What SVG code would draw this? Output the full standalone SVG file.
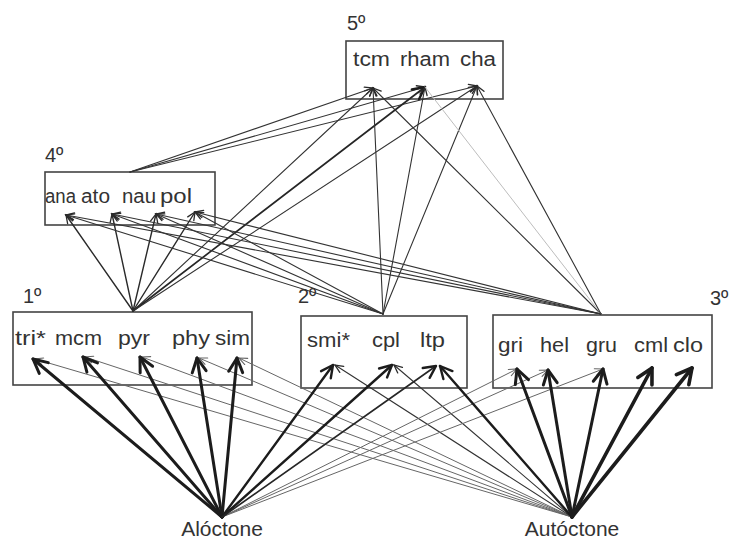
<svg xmlns="http://www.w3.org/2000/svg" width="730" height="542" viewBox="0 0 730 542">
  <defs>
    <style>
      .box { fill: #fff; stroke: #444; stroke-width: 1.6; }
      .lbl { font-family: "Liberation Sans", Arial, sans-serif; font-size: 20px; fill: #333; }
      .src { font-family: "Liberation Sans", Arial, sans-serif; font-size: 21px; fill: #333; }
      .lvl { font-family: "Liberation Sans", Arial, sans-serif; font-size: 20px; fill: #333; }
      .e { fill: none; stroke-linecap: round; }
      .thk { stroke: #1c1c1c; stroke-width: 3; marker-end: url(#hd-l); }
      .thx { stroke: #1c1c1c; stroke-width: 3.6; marker-end: url(#hd-x); }
      .thm { stroke: #1c1c1c; stroke-width: 2.4; marker-end: url(#hd-m); }
      .med { stroke: #262626; stroke-width: 1.7; marker-end: url(#hd-m); }
      .md2 { stroke: #2a2a2a; stroke-width: 1.4; marker-end: url(#hd-s); }
      .thn { stroke: #333; stroke-width: 1.1; marker-end: url(#hd-s); }
      .fnt { stroke: #666; stroke-width: 1; marker-end: url(#hd-f); }
      .lgt { stroke: #bdbdbd; stroke-width: 1; }
    </style>
    <marker id="hd-s" markerUnits="userSpaceOnUse" orient="auto" refX="0" refY="0" markerWidth="20" markerHeight="20" overflow="visible">
      <path d="M-8,-3.6 L0,0 L-8,3.6" fill="none" stroke="#2a2a2a" stroke-width="1.3" stroke-linecap="round"/>
    </marker>
    <marker id="hd-f" markerUnits="userSpaceOnUse" orient="auto" refX="0" refY="0" markerWidth="20" markerHeight="20" overflow="visible">
      <path d="M-8,-3.4 L0,0 L-8,3.4" fill="none" stroke="#666" stroke-width="1.1" stroke-linecap="round"/>
    </marker>
    <marker id="hd-m" markerUnits="userSpaceOnUse" orient="auto" refX="0" refY="0" markerWidth="30" markerHeight="30" overflow="visible">
      <path d="M-12,-6 L0,0 L-12,6" fill="none" stroke="#1c1c1c" stroke-width="2.4" stroke-linecap="round" stroke-linejoin="round"/>
    </marker>
    <marker id="hd-l" markerUnits="userSpaceOnUse" orient="auto" refX="0" refY="0" markerWidth="30" markerHeight="30" overflow="visible">
      <path d="M-14,-7 L0,0 L-14,7" fill="none" stroke="#1c1c1c" stroke-width="3" stroke-linecap="round" stroke-linejoin="round"/>
    </marker>
    <marker id="hd-x" markerUnits="userSpaceOnUse" orient="auto" refX="0" refY="0" markerWidth="30" markerHeight="30" overflow="visible">
      <path d="M-15,-8 L0,0 L-15,8" fill="none" stroke="#1c1c1c" stroke-width="3.6" stroke-linecap="round" stroke-linejoin="round"/>
    </marker>
  </defs>

  <!-- trophic-level boxes -->
  <g id="level5">
    <rect class="box" x="346" y="41" width="157" height="58"/>
    <text class="lvl" x="347" y="30">5º</text>
    <text class="lbl" x="353" y="66" textLength="37" lengthAdjust="spacingAndGlyphs">tcm</text>
    <text class="lbl" x="400" y="66" textLength="50" lengthAdjust="spacingAndGlyphs">rham</text>
    <text class="lbl" x="460" y="66" textLength="36" lengthAdjust="spacingAndGlyphs">cha</text>
  </g>
  <g id="level4">
    <rect class="box" x="45" y="172" width="170" height="53"/>
    <text class="lvl" x="45" y="162">4º</text>
    <text class="lbl" x="45" y="203" textLength="31" lengthAdjust="spacingAndGlyphs">ana</text>
    <text class="lbl" x="81" y="203" textLength="29" lengthAdjust="spacingAndGlyphs">ato</text>
    <text class="lbl" x="122" y="203" textLength="34" lengthAdjust="spacingAndGlyphs">nau</text>
    <text class="lbl" x="160" y="203" textLength="32" lengthAdjust="spacingAndGlyphs">pol</text>
  </g>
  <g id="level1">
    <rect class="box" x="13" y="312" width="239" height="73"/>
    <text class="lvl" x="23" y="303">1º</text>
    <text class="lbl" x="15" y="345" textLength="31" lengthAdjust="spacingAndGlyphs">tri*</text>
    <text class="lbl" x="55" y="345" textLength="47" lengthAdjust="spacingAndGlyphs">mcm</text>
    <text class="lbl" x="118" y="345" textLength="32" lengthAdjust="spacingAndGlyphs">pyr</text>
    <text class="lbl" x="172" y="345" textLength="38" lengthAdjust="spacingAndGlyphs">phy</text>
    <text class="lbl" x="215" y="345" textLength="35" lengthAdjust="spacingAndGlyphs">sim</text>
  </g>
  <g id="level2">
    <rect class="box" x="301" y="316" width="166" height="72"/>
    <text class="lvl" x="298" y="303">2º</text>
    <text class="lbl" x="307" y="347" textLength="43" lengthAdjust="spacingAndGlyphs">smi*</text>
    <text class="lbl" x="372" y="347" textLength="28" lengthAdjust="spacingAndGlyphs">cpl</text>
    <text class="lbl" x="420" y="347" textLength="25" lengthAdjust="spacingAndGlyphs">ltp</text>
  </g>
  <g id="level3">
    <rect class="box" x="493" y="315" width="219" height="73"/>
    <text class="lvl" x="710" y="305">3º</text>
    <text class="lbl" x="498" y="352" textLength="25" lengthAdjust="spacingAndGlyphs">gri</text>
    <text class="lbl" x="540" y="352" textLength="29" lengthAdjust="spacingAndGlyphs">hel</text>
    <text class="lbl" x="586" y="352" textLength="31" lengthAdjust="spacingAndGlyphs">gru</text>
    <text class="lbl" x="634" y="352" textLength="34" lengthAdjust="spacingAndGlyphs">cml</text>
    <text class="lbl" x="673" y="352" textLength="30" lengthAdjust="spacingAndGlyphs">clo</text>
  </g>

  <!-- energy sources -->
  <g id="aloctone">
    <text class="src" x="222" y="536" text-anchor="middle">Alóctone</text>
  </g>
  <g id="autoctone">
    <text class="src" x="572" y="536" text-anchor="middle">Autóctone</text>
  </g>

  <g id="connectors">
    <!-- level 4 to level 5 -->
    <line class="e thn" x1="130" y1="172" x2="373" y2="88"/>
    <line class="e thn" x1="130" y1="172" x2="425" y2="87"/>
    <line class="e thn" x1="130" y1="172" x2="477" y2="86"/>

    <!-- level 1 to levels 4 and 5 -->
    <line class="e md2" x1="133" y1="311" x2="66" y2="215"/>
    <line class="e md2" x1="133" y1="311" x2="112" y2="214"/>
    <line class="e md2" x1="133" y1="311" x2="156" y2="214"/>
    <line class="e md2" x1="133" y1="311" x2="195" y2="212"/>
    <line class="e thn" x1="133" y1="311" x2="373" y2="88"/>
    <line class="e med" x1="133" y1="311" x2="425" y2="87"/>
    <line class="e thn" x1="133" y1="311" x2="477" y2="86"/>

    <!-- level 2 to levels 4 and 5 -->
    <line class="e thn" x1="383" y1="314" x2="66" y2="215"/>
    <line class="e thn" x1="383" y1="314" x2="112" y2="214"/>
    <line class="e thn" x1="383" y1="314" x2="156" y2="214"/>
    <line class="e thn" x1="383" y1="314" x2="195" y2="212"/>
    <line class="e thn" x1="383" y1="314" x2="373" y2="88"/>
    <line class="e thn" x1="383" y1="314" x2="425" y2="87"/>
    <line class="e thn" x1="383" y1="314" x2="477" y2="86"/>

    <!-- level 3 to levels 4 and 5 -->
    <line class="e thn" x1="601" y1="314" x2="66" y2="215"/>
    <line class="e thn" x1="601" y1="314" x2="112" y2="214"/>
    <line class="e thn" x1="601" y1="314" x2="156" y2="214"/>
    <line class="e thn" x1="601" y1="314" x2="195" y2="212"/>
    <line class="e thn" x1="601" y1="314" x2="373" y2="88"/>
    <line class="e lgt" x1="601" y1="314" x2="425" y2="87"/>
    <line class="e thn" x1="601" y1="314" x2="477" y2="86"/>

    <!-- Autóctone, weak links -->
    <line class="e fnt" x1="572" y1="517" x2="35" y2="359"/>
    <line class="e fnt" x1="572" y1="517" x2="85" y2="357"/>
    <line class="e fnt" x1="572" y1="517" x2="142" y2="357"/>
    <line class="e fnt" x1="572" y1="517" x2="199" y2="358"/>
    <line class="e fnt" x1="572" y1="517" x2="239" y2="358"/>
    <line class="e thn" x1="572" y1="517" x2="335" y2="365"/>
    <line class="e thn" x1="572" y1="517" x2="394" y2="365"/>

    <!-- Alóctone, weak links -->
    <line class="e fnt" x1="222" y1="517" x2="517" y2="369"/>
    <line class="e fnt" x1="222" y1="517" x2="548" y2="370"/>
    <line class="e fnt" x1="222" y1="517" x2="603" y2="369"/>

    <!-- Alóctone, strong links -->
    <line class="e thk" x1="222" y1="517" x2="33" y2="359"/>
    <line class="e thk" x1="222" y1="517" x2="83" y2="357"/>
    <line class="e thk" x1="222" y1="517" x2="140" y2="357"/>
    <line class="e thk" x1="222" y1="517" x2="197" y2="358"/>
    <line class="e thk" x1="222" y1="517" x2="237" y2="358"/>
    <line class="e thm" x1="222" y1="517" x2="333" y2="365"/>
    <line class="e thm" x1="222" y1="517" x2="392" y2="365"/>
    <line class="e med" x1="222" y1="517" x2="436" y2="366"/>

    <!-- Autóctone, strong links -->
    <line class="e thm" x1="572" y1="517" x2="440" y2="366"/>
    <line class="e thk" x1="572" y1="517" x2="517" y2="369"/>
    <line class="e thk" x1="572" y1="517" x2="548" y2="370"/>
    <line class="e thk" x1="572" y1="517" x2="603" y2="369"/>
    <line class="e thx" x1="572" y1="517" x2="652" y2="368"/>
    <line class="e thx" x1="572" y1="517" x2="692" y2="368"/>
  </g>
</svg>
